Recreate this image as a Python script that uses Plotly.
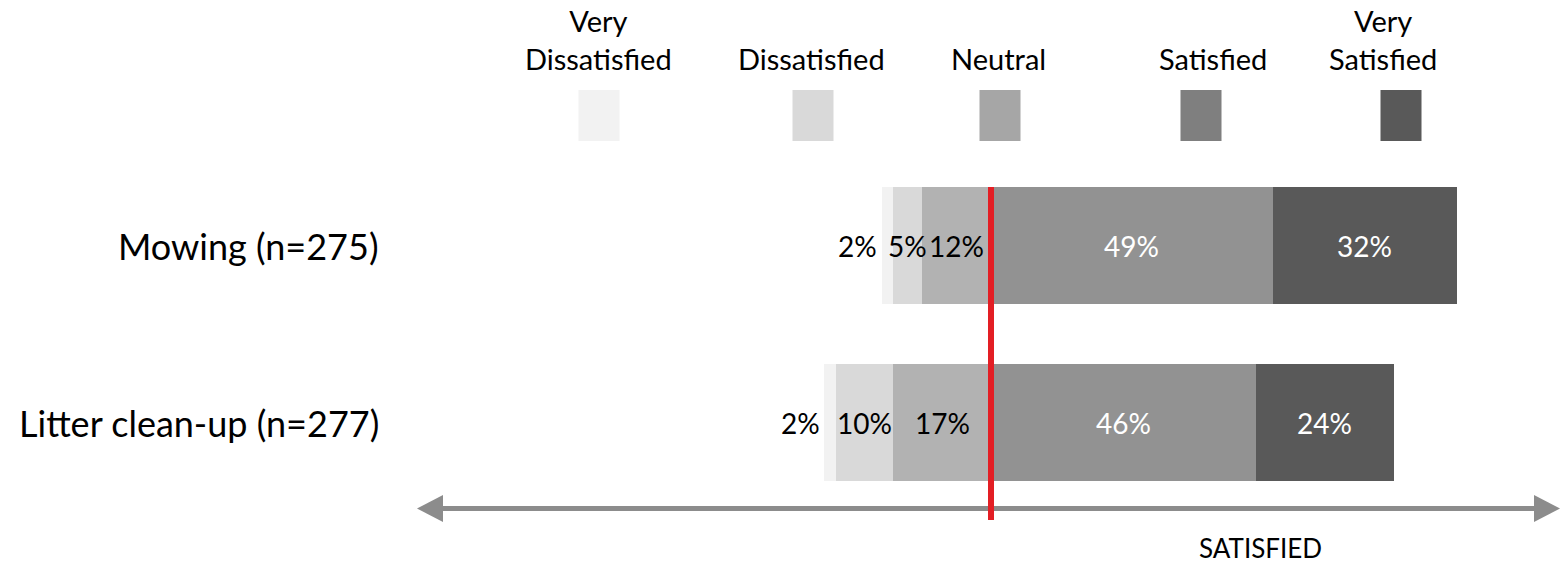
import plotly.graph_objects as go

# Survey results: share of respondents per satisfaction level (%)
categories = ["Litter clean-up (n=277)", "Mowing (n=275)"]
levels = ["Very Dissatisfied", "Dissatisfied", "Neutral", "Satisfied", "Very Satisfied"]
very_dissatisfied = [2, 2]
dissatisfied = [10, 5]
neutral = [17, 12]
satisfied = [46, 49]
very_satisfied = [24, 32]
axis_caption = "SATISFIED"

W, H = 1561, 563
FONT = "Lato, Calibri, Carlito, sans-serif"

bar_colors = {
    "Very Dissatisfied": "#f2f2f2",
    "Dissatisfied": "#d9d9d9",
    "Neutral": "#b2b2b2",
    "Satisfied": "#929292",
    "Very Satisfied": "#595959",
}
legend_colors = {
    "Very Dissatisfied": "#f2f2f2",
    "Dissatisfied": "#d9d9d9",
    "Neutral": "#a6a6a6",
    "Satisfied": "#7f7f7f",
    "Very Satisfied": "#595959",
}
text_colors = {
    "Very Dissatisfied": "black",
    "Dissatisfied": "black",
    "Neutral": "black",
    "Satisfied": "white",
    "Very Satisfied": "white",
}

series = {
    "Very Dissatisfied": very_dissatisfied,
    "Dissatisfied": dissatisfied,
    "Neutral": neutral,
    "Satisfied": satisfied,
    "Very Satisfied": very_satisfied,
}
negative = {"Very Dissatisfied", "Dissatisfied", "Neutral"}

# x scale: zero line at pixel 991, 5.75 px per percentage point, plot spans whole canvas
PX_PER_UNIT = 5.75
ZERO_PX = 991
x_range = [-ZERO_PX / PX_PER_UNIT, (W - ZERO_PX) / PX_PER_UNIT]
# y scale: category centres 177 px apart, Litter at pixel 422.5
Y_PX = 177.0
Y0_PX = 422.5
y_range = [-(H - Y0_PX) / Y_PX, Y0_PX / Y_PX]


def px(x):
    return x / W


def py(y):
    return 1 - y / H


fig = go.Figure()

# stacking order: negatives nearest zero first, then positives nearest zero first
for name in ["Neutral", "Dissatisfied", "Very Dissatisfied", "Satisfied", "Very Satisfied"]:
    vals = series[name]
    xs = [-v if name in negative else v for v in vals]
    fig.add_trace(go.Bar(
        y=categories, x=xs, orientation="h", name=name,
        marker=dict(color=bar_colors[name], line=dict(width=0)),
        width=0.661, hoverinfo="skip", showlegend=False,
    ))

annotations = []
shapes = []

# data labels centred in their segments (smallest ones sit left of the bar)
label_shift = {"Very Dissatisfied": -30}
for i, cat in enumerate(categories):
    left = -(very_dissatisfied[i] + dissatisfied[i] + neutral[i])
    pos = left
    for name in levels:
        v = series[name][i]
        mid = pos + v / 2
        pos += v
        annotations.append(dict(
            x=mid, y=cat, xref="x", yref="y", text=f"{v}%", showarrow=False,
            xanchor="center", yanchor="middle",
            xshift=label_shift.get(name, 0),
            font=dict(family=FONT, size=28, color=text_colors[name]),
        ))
    # category label, right-aligned left of the chart body
    annotations.append(dict(
        x=px(381), y=cat, xref="paper", yref="y", text=cat, showarrow=False,
        xanchor="right", yanchor="middle", font=dict(family=FONT, size=36, color="black"),
    ))

# legend: labels above colour swatches
legend_pos = {
    "Very Dissatisfied": (599, 598),
    "Dissatisfied": (813, 812),
    "Neutral": (1000, 998),
    "Satisfied": (1201, 1213),
    "Very Satisfied": (1401, 1383),
}
for name in levels:
    sx, tx = legend_pos[name]
    shapes.append(dict(
        type="rect", xref="paper", yref="paper",
        x0=px(sx - 20.5), x1=px(sx + 20.5), y0=py(141), y1=py(90),
        fillcolor=legend_colors[name], line=dict(width=0),
    ))
    words = name.split(" ")
    text = "Very<br>" + words[1] if words[0] == "Very" else name
    annotations.append(dict(
        x=px(tx), y=py(78), xref="paper", yref="paper", text=text, showarrow=False,
        xanchor="center", yanchor="bottom", align="center",
        font=dict(family=FONT, size=29, color="black"),
    ))

# double-headed axis arrow
arrow_y = -(508.5 - Y0_PX) / Y_PX
head_len = 26 / PX_PER_UNIT
head_half = 13.5 / Y_PX
left_tip = (417 - ZERO_PX) / PX_PER_UNIT
right_tip = (1560 - ZERO_PX) / PX_PER_UNIT
shapes.append(dict(
    type="line", xref="x", yref="y", x0=left_tip + head_len * 0.5, x1=right_tip - head_len * 0.5,
    y0=arrow_y, y1=arrow_y, line=dict(color="#8c8c8c", width=5),
))
shapes.append(dict(
    type="path", xref="x", yref="y",
    path=f"M {left_tip},{arrow_y} L {left_tip + head_len},{arrow_y + head_half} "
         f"L {left_tip + head_len},{arrow_y - head_half} Z",
    fillcolor="#8c8c8c", line=dict(width=0),
))
shapes.append(dict(
    type="path", xref="x", yref="y",
    path=f"M {right_tip},{arrow_y} L {right_tip - head_len},{arrow_y + head_half} "
         f"L {right_tip - head_len},{arrow_y - head_half} Z",
    fillcolor="#8c8c8c", line=dict(width=0),
))

# red reference line at the neutral/satisfied boundary
shapes.append(dict(
    type="line", xref="x", yref="y", x0=0, x1=0,
    y0=1 + 0.661 / 2, y1=-(520 - Y0_PX) / Y_PX,
    line=dict(color="#e31e24", width=6),
))

annotations.append(dict(
    x=px(1260), y=py(548), xref="paper", yref="paper", text=axis_caption, showarrow=False,
    xanchor="center", yanchor="middle",
    font=dict(family=FONT, size=26, color="black"),
))

fig.update_layout(
    width=W, height=H,
    margin=dict(l=0, r=0, t=0, b=0),
    paper_bgcolor="white", plot_bgcolor="white",
    barmode="relative", bargap=0,
    xaxis=dict(range=x_range, visible=False, fixedrange=True),
    yaxis=dict(range=y_range, visible=False, fixedrange=True, type="category",
               categoryorder="array", categoryarray=categories),
    shapes=shapes, annotations=annotations,
    showlegend=False,
)

fig.write_html("out.html")
